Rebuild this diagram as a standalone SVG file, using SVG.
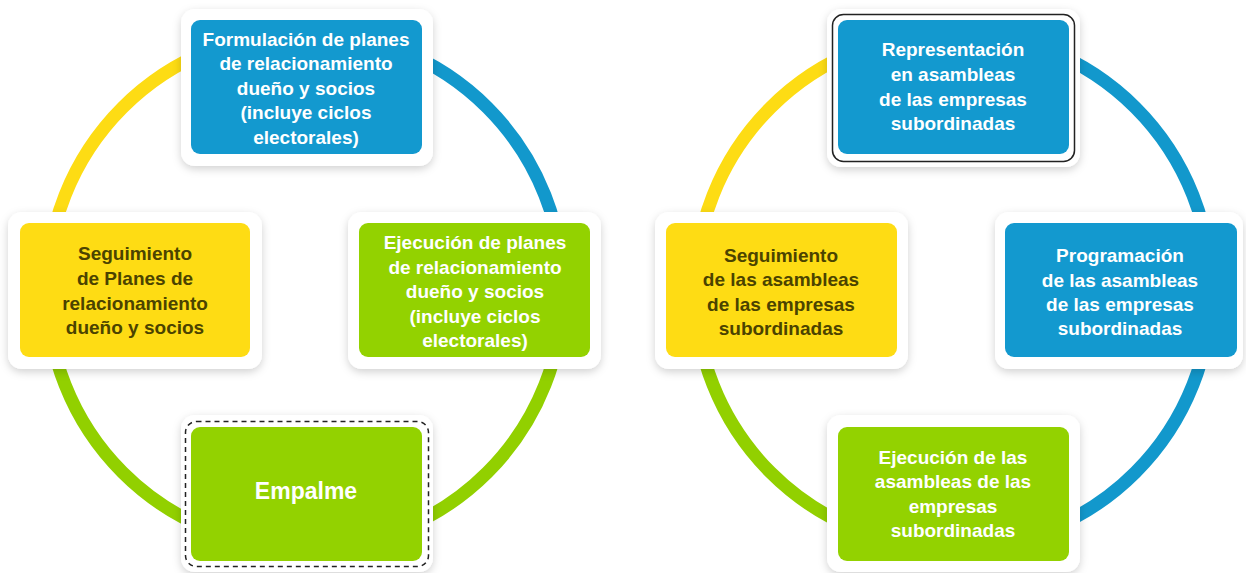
<svg xmlns="http://www.w3.org/2000/svg" width="1246" height="573" viewBox="0 0 1246 573">
<defs>
<filter id="sh" x="-10%" y="-10%" width="120%" height="130%">
<feDropShadow dx="0" dy="3" stdDeviation="4" flood-color="#000" flood-opacity="0.18"/>
</filter>
<style>
.ring{fill:none;stroke-width:13}
.y{stroke:#fddc14}.b{stroke:#1298cc}.g{stroke:#92d000}
.card{fill:#fff;filter:url(#sh)}
.blue{fill:#1399cf}.green{fill:#93d200}.yellow{fill:#fedc14}
text{font-family:"Liberation Sans",Arial,sans-serif;font-weight:bold;font-size:19px;text-anchor:middle;fill:#fff}
.dk{fill:#4b4300}
</style>
</defs>
<rect width="1246" height="573" fill="#fff"/>
<g id="connectors">
<path class="ring y" d="M47 290A258 258 0 0 1 305 32"/>
<path class="ring b" d="M305 32A258 258 0 0 1 563 290"/>
<path class="ring g" d="M563 290A258 258 0 0 1 305 548"/>
<path class="ring g" d="M305 548A258 258 0 0 1 47 290"/>
<path class="ring y" d="M695 290A258 258 0 0 1 953 32"/>
<path class="ring b" d="M953 32A258 258 0 0 1 1211 290"/>
<path class="ring b" d="M1211 290A258 258 0 0 1 953 548"/>
<path class="ring g" d="M953 548A258 258 0 0 1 695 290"/>
</g>
<g id="n1">
<rect class="card" x="181" y="9" width="252" height="157" rx="14"/>
<rect class="blue" x="191" y="20" width="231" height="134" rx="9"/>
<text x="306"><tspan x="306" y="46">Formulación de planes</tspan><tspan x="306" y="70">de relacionamiento</tspan><tspan x="306" y="95">dueño y socios</tspan><tspan x="306" y="119">(incluye ciclos</tspan><tspan x="306" y="144">electorales)</tspan></text>
</g>
<g id="n2">
<rect class="card" x="348" y="212" width="253" height="157" rx="14"/>
<rect class="green" x="359" y="223" width="231" height="134" rx="9"/>
<text><tspan x="475" y="249">Ejecución de planes</tspan><tspan x="475" y="274">de relacionamiento</tspan><tspan x="475" y="298">dueño y socios</tspan><tspan x="475" y="323">(incluye ciclos</tspan><tspan x="475" y="347">electorales)</tspan></text>
</g>
<g id="n3">
<rect class="card" x="181" y="415" width="252" height="157" rx="14"/>
<rect x="185.5" y="421.5" width="243" height="145" rx="11" fill="none" stroke="#222" stroke-width="1.5" stroke-dasharray="5 4"/>
<rect class="green" x="191" y="427" width="231" height="134" rx="9"/>
<text x="306" y="499" style="font-size:23px">Empalme</text>
</g>
<g id="n4">
<rect class="card" x="8" y="212" width="254" height="157" rx="14"/>
<rect class="yellow" x="20" y="223" width="230" height="134" rx="9"/>
<text class="dk"><tspan x="135" y="260">Seguimiento</tspan><tspan x="135" y="285">de Planes de</tspan><tspan x="135" y="310">relacionamiento</tspan><tspan x="135" y="334">dueño y socios</tspan></text>
</g>
<g id="n5">
<rect class="card" x="827" y="9" width="253" height="158" rx="14"/>
<rect x="832.5" y="14.5" width="242" height="147" rx="11" fill="none" stroke="#222" stroke-width="1.5"/>
<rect class="blue" x="838" y="20" width="231" height="134" rx="9"/>
<text><tspan x="953" y="56">Representación</tspan><tspan x="953" y="81">en asambleas</tspan><tspan x="953" y="106">de las empresas</tspan><tspan x="953" y="130">subordinadas</tspan></text>
</g>
<g id="n6">
<rect class="card" x="995" y="212" width="248" height="157" rx="14"/>
<rect class="blue" x="1005" y="223" width="232" height="134" rx="9"/>
<text><tspan x="1120" y="262">Programación</tspan><tspan x="1120" y="287">de las asambleas</tspan><tspan x="1120" y="311">de las empresas</tspan><tspan x="1120" y="335">subordinadas</tspan></text>
</g>
<g id="n7">
<rect class="card" x="827" y="415" width="253" height="157" rx="14"/>
<rect class="green" x="838" y="427" width="231" height="134" rx="9"/>
<text><tspan x="953" y="464">Ejecución de las</tspan><tspan x="953" y="488">asambleas de las</tspan><tspan x="953" y="513">empresas</tspan><tspan x="953" y="537">subordinadas</tspan></text>
</g>
<g id="n8">
<rect class="card" x="655" y="212" width="253" height="157" rx="14"/>
<rect class="yellow" x="666" y="223" width="231" height="134" rx="9"/>
<text class="dk"><tspan x="781" y="262">Seguimiento</tspan><tspan x="781" y="286">de las asambleas</tspan><tspan x="781" y="311">de las empresas</tspan><tspan x="781" y="335">subordinadas</tspan></text>
</g>
</svg>
